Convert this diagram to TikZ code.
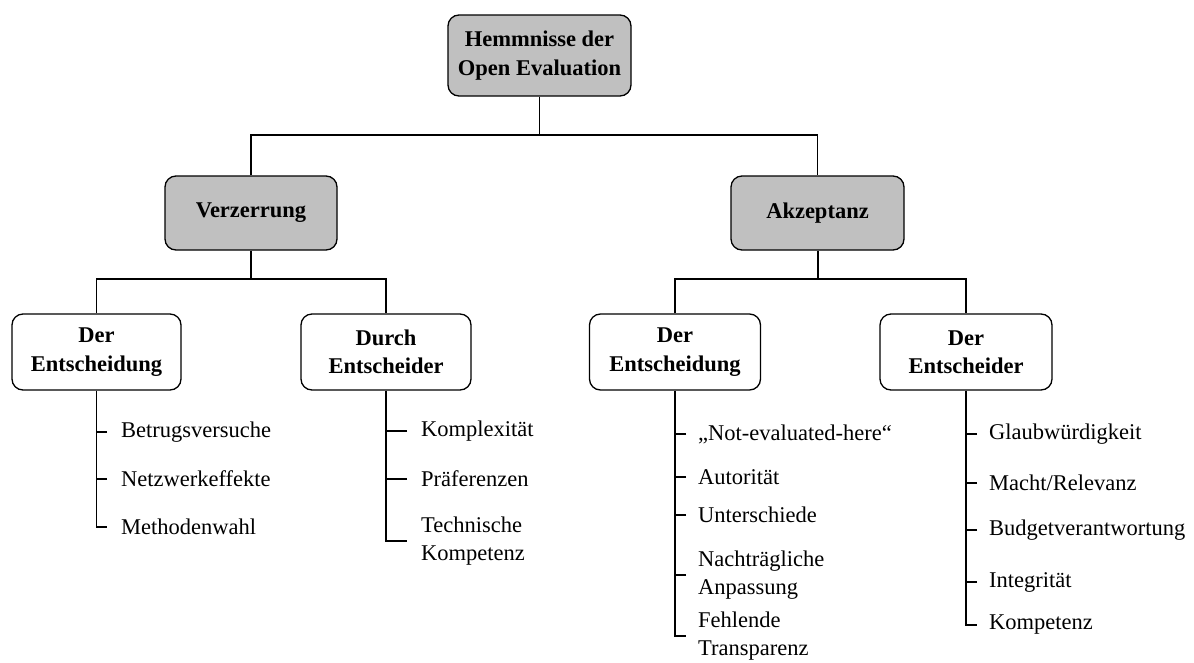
\documentclass[tikz,border=0pt]{standalone}
\usepackage{fontspec}
\setmainfont{Liberation Serif}
\newcommand\myfs{\fontsize{22.5}{28.5}\selectfont}
\definecolor{boxgray}{HTML}{C0C0C0}
\begin{document}
\begin{tikzpicture}[x=1pt,y=-1pt,
  box/.style={draw, rounded corners=11pt, line width=1.3pt, align=center,
    font=\myfs\bfseries, inner sep=0pt, minimum height=76pt, minimum width=170pt},
  gbox/.style={box, fill=boxgray},
  leaf/.style={anchor=west, align=left, font=\myfs, inner ysep=0pt, inner xsep=#1},
  leaf/.default=12pt,
  conn/.style={line width=1.3pt},
  stem/.style={line width=2pt}]
\useasboundingbox (0,0) rectangle (1194,662);

% level 0
\node[gbox, minimum width=183pt, minimum height=81pt] (root) at (539.5,55.5) {Hemmnisse der\\Open Evaluation};
% level 1
\node[gbox, minimum width=172pt, minimum height=74pt] (verz) at (251,213) {Verzerrung};
\node[gbox, minimum width=173pt, minimum height=74pt] (akz) at (817.5,213) {Akzeptanz};
% level 2
\node[box, minimum width=169pt] (l1) at (96.5,352) {Der\\Entscheidung};
\node[box] (l2) at (386,352) {Durch\\Entscheider};
\node[box, minimum width=171pt] (r1) at (675,352) {Der\\Entscheidung};
\node[box, minimum width=172pt] (r2) at (966,352) {Der\\Entscheider};

% junctions
\coordinate (j0) at (539.5,135);
\coordinate (j1) at (251,279);
\coordinate (j2) at (817.5,279);

\draw[conn] (root.south) -- (j0);
\draw[conn] (verz.north) |- (j0) -| (akz.north);
\draw[stem] (verz.south) -- (j1);
\draw[conn] (l1.north) |- (j1) -| (l2.north);
\draw[stem] (akz.south) -- (j2);
\draw[conn] (r1.north) |- (j2) -| (r2.north);

% leaves L1
\node[leaf=14pt] (l1a) at (107,432) {Betrugsversuche};
\node[leaf=14pt] (l1b) at (107,479) {Netzwerkeffekte};
\node[leaf=14pt] (l1c) at (107,527) {Methodenwahl};
\draw[conn] (l1.south) |- (l1c.west);
\foreach \n in {l1a,l1b} \draw[conn] (\n.west) -- (\n.west -| l1.south);

% leaves L2
\node[leaf=14pt] (l2a) at (407,431) {Komplexität};
\node[leaf=14pt] (l2b) at (407,479) {Präferenzen};
\node[leaf=14pt] (l2c) at (407,541) {Technische\\Kompetenz};
\draw[conn] (l2.south) |- (l2c.west);
\foreach \n in {l2a,l2b} \draw[conn] (\n.west) -- (\n.west -| l2.south);

% leaves R1
\node[leaf] (r1a) at (686,434) {„Not-evaluated-here“};
\node[leaf] (r1b) at (686,477) {Autorität};
\node[leaf] (r1c) at (686,515) {Unterschiede};
\node[leaf] (r1d) at (686,575) {Nachträgliche\\Anpassung};
\node[leaf] (r1e) at (686,636) {Fehlende\\Transparenz};
\draw[conn] (r1.south) |- (r1e.west);
\foreach \n in {r1a,r1b,r1c,r1d} \draw[conn] (\n.west) -- (\n.west -| r1.south);

% leaves R2
\node[leaf] (r2a) at (977,434) {Glaubwürdigkeit};
\node[leaf] (r2b) at (977,483) {Macht/Relevanz};
\node[leaf] (r2c) at (977,530) {Budgetverantwortung};
\node[leaf] (r2d) at (977,582) {Integrität};
\node[leaf] (r2e) at (977,625) {Kompetenz};
\draw[conn] (r2.south) |- (r2e.west);
\foreach \n in {r2a,r2b,r2c,r2d} \draw[conn] (\n.west) -- (\n.west -| r2.south);
\end{tikzpicture}
\end{document}
